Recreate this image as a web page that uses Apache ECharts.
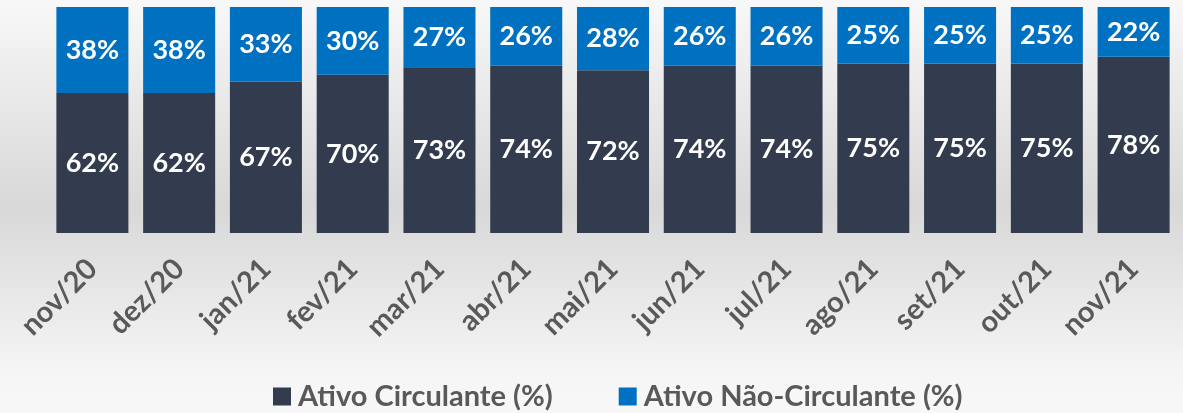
<!DOCTYPE html>
<html>
<head>
<meta charset="utf-8">
<script src="https://cdn.jsdelivr.net/npm/echarts@6/dist/echarts.min.js"></script>
<style>
html,body{margin:0;padding:0;background:#fff;}
#c{width:1183px;height:413px;}
</style>
</head>
<body>
<div id="c"></div>
<script>
const categories = ['nov/20','dez/20','jan/21','fev/21','mar/21','abr/21','mai/21','jun/21','jul/21','ago/21','set/21','out/21','nov/21'];
const ativoCirculante = [62,62,67,70,73,74,72,74,74,75,75,75,78];
const ativoNaoCirculante = [38,38,33,30,27,26,28,26,26,25,25,25,22];
const seriesNames = ['Ativo Circulante (%)','Ativo Não-Circulante (%)'];

const FONT = 'Lato, "Open Sans", sans-serif';
const chart = echarts.init(document.getElementById('c'));
const labelStyle = {
  show: true, position: 'inside', color: '#ffffff', fontWeight: 'bold',
  fontSize: 27, fontFamily: FONT, formatter: p => p.value + '%'
};
chart.setOption({
  backgroundColor: new echarts.graphic.LinearGradient(0,0,0,1,[
    {offset:0, color:'#f8f8f8'},
    {offset:0.5, color:'#d8d8d8'},
    {offset:0.9, color:'#f5f5f5'},
    {offset:1, color:'#f8f8f8'}
  ]),
  animation: false,
  grid: {left: 49, right: 6, top: 7, bottom: 180},
  legend: {
    left: 268, top: 377, itemWidth: 18, itemHeight: 18, itemGap: 66,
    icon: 'rect',
    textStyle: {fontFamily: FONT, fontWeight: 'bold', fontSize: 29, color: '#595959', padding:[0,0,0,2]},
    data: seriesNames
  },
  xAxis: {
    type: 'category', data: categories,
    axisLine: {show: false}, axisTick: {show: false},
    axisLabel: {rotate: 45, margin: 31, fontFamily: FONT, fontWeight: 'bold', fontSize: 29, color: '#595959'}
  },
  yAxis: {type: 'value', min: 0, max: 100, show: false},
  series: [
    {name: seriesNames[0], type: 'bar', stack: 's', data: ativoCirculante, barCategoryGap: '17%',
     itemStyle: {color: '#333c4e'}, label: labelStyle},
    {name: seriesNames[1], type: 'bar', stack: 's', data: ativoNaoCirculante,
     itemStyle: {color: '#0070c0'}, label: labelStyle}
  ]
});
</script>
</body>
</html>
